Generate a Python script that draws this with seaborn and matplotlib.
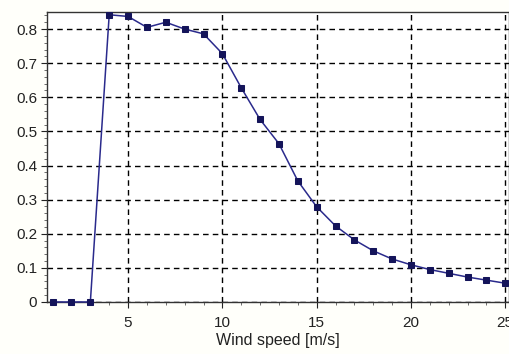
import numpy as np
import pandas as pd
import matplotlib
matplotlib.use('Agg')
import matplotlib.pyplot as plt
import seaborn as sns
from matplotlib.ticker import MultipleLocator

# power coefficient
wind_speed = list(range(1, 26))
cp = [0, 0, 0, 0.842, 0.837, 0.805, 0.82, 0.80, 0.786, 0.728,
      0.628, 0.535, 0.464, 0.355, 0.279, 0.223, 0.182, 0.150, 0.126, 0.109,
      0.095, 0.084, 0.073, 0.064, 0.055]
x_ticks = [5, 10, 15, 20, 25]
y_ticks = [0, 0.1, 0.2, 0.3, 0.4, 0.5, 0.6, 0.7, 0.8]
y_tick_labels = ['0', '0.1', '0.2', '0.3', '0.4', '0.5', '0.6', '0.7', '0.8']

df = pd.DataFrame({'speed': wind_speed, 'cp': cp})

sns.set_style('white')
plt.rcParams['font.family'] = ['Liberation Sans', 'DejaVu Sans']

fig = plt.figure(figsize=(5.09, 3.54), dpi=100, facecolor='#fffffa')
ax = fig.add_axes([0.0923, 0.147, 0.9077, 0.82])
ax.set_facecolor('white')

sns.lineplot(x='speed', y='cp', data=df, ax=ax, color='#2a2a8c', linewidth=1.1,
             marker='s', markersize=5, markerfacecolor='#14145a',
             markeredgecolor='#14145a', zorder=3, clip_on=False)

ax.set_xlim(0.7, 25.2)
ax.set_ylim(0, 0.851)
ax.set_xticks(x_ticks)
ax.set_yticks(y_ticks)
ax.set_yticklabels(y_tick_labels)
ax.xaxis.set_minor_locator(MultipleLocator(1))
ax.yaxis.set_minor_locator(MultipleLocator(0.02))
ax.tick_params(axis='both', which='major', direction='out', length=4, width=0.8,
               labelsize=11, colors='#222222')
ax.tick_params(axis='x', which='major', pad=6)
ax.tick_params(axis='y', which='major', pad=3)
ax.tick_params(axis='both', which='minor', direction='out', length=2, width=0.6,
               colors='#555555')
ax.tick_params(bottom=True, left=True, which='both')

ax.grid(True, which='major', color='black', linestyle=(0, (4, 3)), linewidth=1)
ax.set_axisbelow(True)
for side in ['top', 'bottom', 'left', 'right']:
    ax.spines[side].set_color('#333333')
    ax.spines[side].set_linewidth(1)

ax.set_xlabel('Wind speed [m/s]', fontsize=11.5, color='#222222', labelpad=2)
ax.set_ylabel('')

plt.savefig('out.png', dpi=100, facecolor=fig.get_facecolor())
